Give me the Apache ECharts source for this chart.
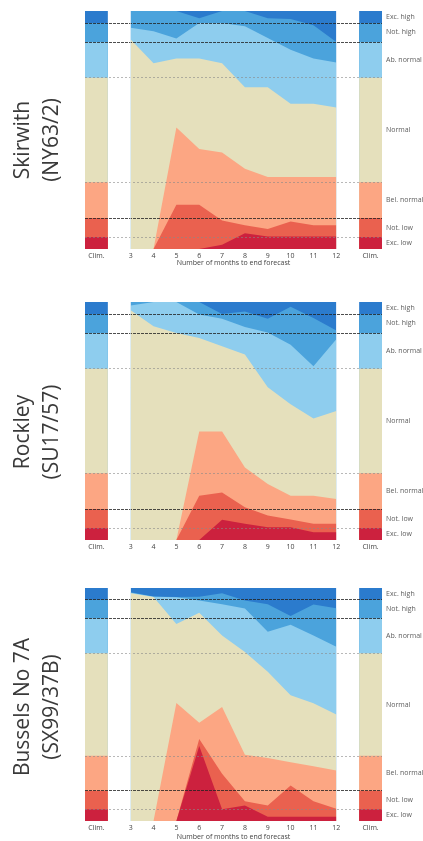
<!DOCTYPE html>
<html lang="en">
<head>
    <meta charset="UTF-8">
    <title>Hydrological outlook</title>
    <script src="https://cdn.jsdelivr.net/npm/echarts@6/dist/echarts.min.js"></script>
    <style>
        body { margin: 0; background: #fff; }
    </style>
</head>
<body>
    <div id="main" style="width: 423px;height: 841px"></div>
    <script>
        var months = [3, 4, 5, 6, 7, 8, 9, 10, 11, 12];
        var categories = ['Exc. low', 'Not. low', 'Bel. normal', 'Normal', 'Ab. normal', 'Not. high', 'Exc. high'];
        // upper edge of each band in the climatology (cumulative probability)
        var climTops = [0.05, 0.13, 0.28, 0.72, 0.87, 0.95, 1];
        var colors = ['#cc213e', '#ea614f', '#fca683', '#e5e0bc', '#8ecdee', '#4ba3dc', '#2b7bcd'];

        // forecast: upper edge of each band, months 3..12
        var skirwithExcLow = [0, 0, 0, 0, 0.018, 0.066, 0.052, 0.052, 0.052, 0.052];
        var skirwithNotLow = [0, 0, 0.186, 0.186, 0.12, 0.10, 0.084, 0.116, 0.10, 0.10];
        var skirwithBelNormal = [0, 0, 0.51, 0.42, 0.405, 0.337, 0.303, 0.303, 0.303, 0.303];
        var skirwithNormal = [0.88, 0.78, 0.80, 0.80, 0.78, 0.68, 0.68, 0.61, 0.61, 0.595];
        var skirwithAbNormal = [0.93, 0.915, 0.884, 0.95, 0.95, 0.936, 0.887, 0.837, 0.80, 0.784];
        var skirwithNotHigh = [1, 1, 1, 0.97, 1, 1, 0.97, 0.966, 0.94, 0.87];

        var rockleyExcLow = [0, 0, 0, 0, 0.085, 0.068, 0.054, 0.054, 0.033, 0.033];
        var rockleyNotLow = [0, 0, 0, 0.186, 0.20, 0.138, 0.103, 0.086, 0.068, 0.068];
        var rockleyBelNormal = [0, 0, 0, 0.456, 0.456, 0.305, 0.235, 0.186, 0.186, 0.172];
        var rockleyNormal = [0.965, 0.898, 0.87, 0.849, 0.814, 0.779, 0.642, 0.57, 0.51, 0.542];
        var rockleyAbNormal = [0.985, 1, 1, 0.948, 0.93, 0.895, 0.872, 0.82, 0.73, 0.843];
        var rockleyNotHigh = [1, 1, 1, 1, 0.95, 0.96, 0.93, 0.98, 0.933, 0.88];

        var busselsExcLow = [0, 0, 0, 0.322, 0.05, 0.067, 0.018, 0.018, 0.018, 0.018];
        var busselsNotLow = [0, 0, 0, 0.352, 0.203, 0.085, 0.067, 0.152, 0.085, 0.053];
        var busselsBelNormal = [0, 0, 0.506, 0.422, 0.489, 0.284, 0.27, 0.252, 0.235, 0.217];
        var busselsNormal = [0.978, 0.961, 0.846, 0.894, 0.796, 0.725, 0.641, 0.54, 0.505, 0.457];
        var busselsAbNormal = [0.98, 0.962, 0.96, 0.946, 0.93, 0.912, 0.812, 0.842, 0.796, 0.748];
        var busselsNotHigh = [0.982, 0.964, 0.961, 0.962, 0.978, 0.946, 0.93, 0.88, 0.929, 0.913];

        var allOnes = [1, 1, 1, 1, 1, 1, 1, 1, 1, 1];

        var stations = [
            { title: 'Skirwith\n(NY63/2)', top: 11, titleY: 140, xName: true, nameGap: 10,
              tops: [skirwithExcLow, skirwithNotLow, skirwithBelNormal, skirwithNormal, skirwithAbNormal, skirwithNotHigh, allOnes] },
            { title: 'Rockley\n(SU17/57)', top: 302, titleY: 432, xName: false, nameGap: 10,
              tops: [rockleyExcLow, rockleyNotLow, rockleyBelNormal, rockleyNormal, rockleyAbNormal, rockleyNotHigh, allOnes] },
            { title: 'Bussels No 7A\n(SX99/37B)', top: 588, titleY: 707, xName: true, nameGap: 12,
              tops: [busselsExcLow, busselsNotLow, busselsBelNormal, busselsNormal, busselsAbNormal, busselsNotHigh, allOnes] }
        ];

        var font = 'Open Sans';
        var myChart = echarts.init(document.getElementById('main'));

        var grids = [], xAxes = [], yAxes = [], series = [], graphics = [];

        stations.forEach(function (st, g) {
            grids.push({ left: 85, width: 297, top: st.top, height: 238 });
            xAxes.push({
                gridIndex: g, type: 'value', min: 1, max: 14, interval: 0.5,
                axisLine: { show: false }, axisTick: { show: false }, splitLine: { show: false },
                axisLabel: {
                    margin: 3, fontSize: 7, color: '#444', fontFamily: font,
                    formatter: function (v) {
                        if (v === 1.5 || v === 13.5) return 'Clim.';
                        if (v >= 3 && v <= 12 && v % 1 === 0) return String(v);
                        return '';
                    }
                },
                name: st.xName ? 'Number of months to end forecast' : '',
                nameLocation: 'middle', nameGap: st.nameGap,
                nameTextStyle: { fontSize: 7, color: '#444', fontFamily: font }
            });
            yAxes.push({
                gridIndex: g, type: 'value', min: 0, max: 1, show: false
            });

            // bands drawn from the top one down, each filled to zero
            for (var k = 6; k >= 0; k--) {
                var c = climTops[k];
                var data = [[1, c], [2, c], [2.5, '-']];
                months.forEach(function (m, j) { data.push([m, st.tops[k][j]]); });
                data.push([12.5, '-'], [13, c], [14, c]);
                var s = {
                    type: 'line', name: categories[k], xAxisIndex: g, yAxisIndex: g,
                    data: data, showSymbol: false, symbol: 'none', connectNulls: false,
                    lineStyle: { width: 0, opacity: 0 },
                    areaStyle: { color: colors[k], opacity: 1 },
                    silent: true
                };
                if (k === 0) {
                    var lines = climTops.slice(0, 6).map(function (v) {
                        var dark = (v === 0.13 || v === 0.87 || v === 0.95);
                        return {
                            yAxis: v,
                            lineStyle: dark
                                ? { color: '#222', width: 1, type: [3, 1], opacity: 0.8 }
                                : { color: '#888', width: 1, type: [2, 2], opacity: 0.6 }
                        };
                    });
                    // pale seams at the edges of the forecast block
                    [3, 12].forEach(function (x) {
                        lines.push({ xAxis: x, lineStyle: { color: '#fff', width: 1, type: 'solid', opacity: 0.6 } });
                    });
                    s.markLine = { silent: true, symbol: 'none', label: { show: false }, data: lines };
                }
                series.push(s);
            }

            // band names beside the right-hand climatology column
            series.push({
                type: 'scatter', xAxisIndex: g, yAxisIndex: g, symbolSize: 0, clip: false, silent: true,
                data: categories.map(function (name, k) {
                    var lower = k === 0 ? 0 : climTops[k - 1];
                    return [14, (lower + climTops[k]) / 2, name];
                }),
                label: {
                    show: true, position: 'right', distance: 4,
                    fontSize: 7, color: '#333', fontFamily: font,
                    formatter: function (p) { return p.value[2]; }
                }
            });

            graphics.push({
                type: 'text', x: 37.5, y: st.titleY, rotation: Math.PI / 2,
                style: {
                    text: st.title, align: 'center', verticalAlign: 'middle',
                    fontSize: 21, lineHeight: 29, fontFamily: font, fill: '#3a3a3a'
                }
            });
        });

        myChart.setOption({
            animation: false,
            grid: grids,
            xAxis: xAxes,
            yAxis: yAxes,
            series: series,
            graphic: graphics
        });
    </script>
</body>
</html>
